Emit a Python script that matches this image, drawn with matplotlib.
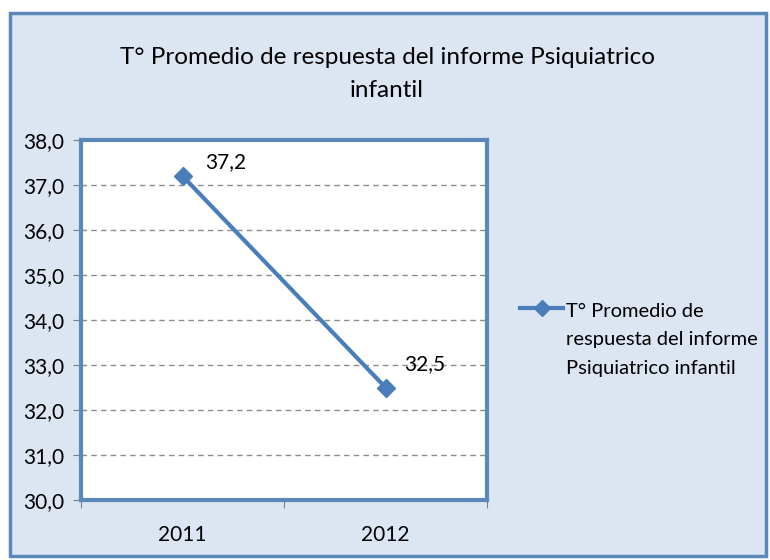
import matplotlib
matplotlib.use("Agg")
import matplotlib.pyplot as plt
from matplotlib.patches import Rectangle
from matplotlib.lines import Line2D

categories = ["2011", "2012"]
values = [37.2, 32.5]
value_labels = ["37,2", "32,5"]
y_ticks = [30, 31, 32, 33, 34, 35, 36, 37, 38]
y_tick_labels = ["30,0", "31,0", "32,0", "33,0", "34,0", "35,0", "36,0", "37,0", "38,0"]
title = "T° Promedio de respuesta del informe Psiquiatrico\ninfantil"
series_name = "T° Promedio de\nrespuesta del informe\nPsiquiatrico infantil"

plt.rcParams['font.family'] = ['Lato', 'DejaVu Sans']

W, H = 770, 560
fig = plt.figure(figsize=(W / 100, H / 100), dpi=100)
fig.patch.set_facecolor("white")

blue = "#4A7EBB"
bg = "#DCE6F2"

# outer chart frame
fig.patches.append(Rectangle((10 / W, 4 / H), (W - 14) / W, (H - 17) / H,
                             transform=fig.transFigure, facecolor=bg,
                             edgecolor="#5B87BA", linewidth=2.5, zorder=-5))

ax = fig.add_axes([81 / W, 1 - 500 / H, (487 - 81) / W, (500 - 140) / H])
ax.set_zorder(2)
ax.set_facecolor("white")
x = list(range(len(categories)))
ax.plot(x, values, color=blue, linewidth=3, marker="D", markersize=9,
        markerfacecolor=blue, markeredgecolor=blue, zorder=3, clip_on=False)
ax.set_xlim(-0.5, len(categories) - 0.5)
ax.set_ylim(30, 38)
ax.set_yticks(y_ticks)
ax.set_yticklabels(y_tick_labels, fontsize=15)
ax.set_xticks([-0.5, 0.5, 1.5], minor=False)
ax.set_xticklabels([])
ax.set_xticks(x, minor=True)
ax.set_xticklabels(categories, minor=True, fontsize=15)
ax.tick_params(axis="x", which="minor", length=0, pad=18)
ax.tick_params(axis="x", which="major", length=6, color="#7F7F7F", direction="out")
ax.tick_params(axis="y", length=6, color="#7F7F7F", direction="out", pad=6)
ax.yaxis.grid(True, linestyle=(0, (4, 3)), color="#8C8C8C", linewidth=1)
ax.set_axisbelow(True)
for s in ax.spines.values():
    s.set_color("#5B87BA")
    s.set_linewidth(3)

offsets = [(0.11, 0.31), (0.09, 0.51)]
for xi, v, lab, off in zip(x, values, value_labels, offsets):
    ax.text(xi + off[0], v + off[1], lab, fontsize=15, ha="left", va="center")

fig.text(387 / W, 1 - 74 / H, title, ha="center", va="center", fontsize=17.5,
         linespacing=1.75)

# legend (drawn by hand so the marker sits on the first text line)
fig.add_artist(Line2D([520 / W, 563 / W], [1 - 308 / H, 1 - 308 / H],
                      transform=fig.transFigure, color=blue, linewidth=3))
fig.add_artist(Line2D([542 / W], [1 - 308 / H], transform=fig.transFigure,
                      color=blue, marker="D", markersize=8, linestyle="none"))
fig.text(566 / W, 1 - 340 / H, series_name, ha="left", va="center",
         fontsize=14.5, linespacing=1.8)

fig.savefig("out.png", dpi=100)
